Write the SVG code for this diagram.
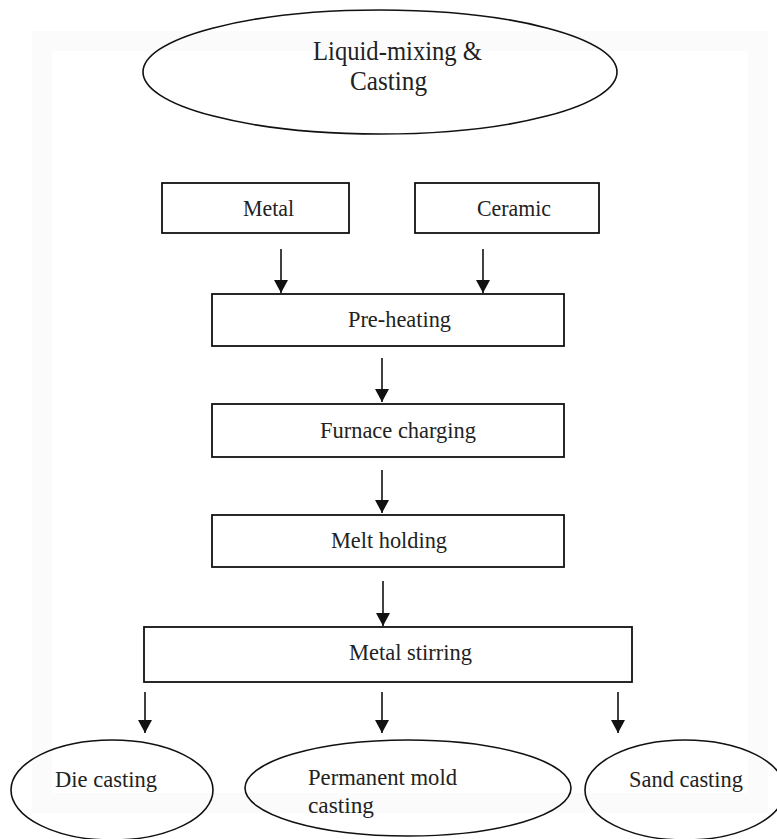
<svg xmlns="http://www.w3.org/2000/svg" width="777" height="839" viewBox="0 0 777 839">
<style>
.box{fill:none;stroke:#111;stroke-width:1.8}
.ell{fill:none;stroke:#111;stroke-width:1.6}
.lbl{font-size:24px;fill:#222}
.title{font-size:27px;fill:#222}
.conn{stroke:#111;stroke-width:1.6;fill:none}
</style>
<defs>
<marker id="ah" markerUnits="userSpaceOnUse" markerWidth="14" markerHeight="16" refX="13" refY="7" orient="auto">
<path d="M0,0 L13,7 L0,14 Z" fill="#111"/>
</marker>
</defs>
<rect width="777" height="839" fill="#fff"/>
<rect x="42" y="41" width="716" height="762" fill="none" stroke="#fbfbfb" stroke-width="20"/>
<g font-family="'Liberation Serif', 'DejaVu Serif', serif">
<g id="n-title">
<ellipse class="ell" cx="380" cy="72" rx="237" ry="62"/>
<text class="title" x="313" y="60" textLength="169" lengthAdjust="spacingAndGlyphs">Liquid-mixing &amp;</text>
<text class="title" x="350" y="90" textLength="77" lengthAdjust="spacingAndGlyphs">Casting</text>
</g>
<g id="n-metal">
<rect class="box" x="162" y="183" width="187" height="50"/>
<text class="lbl" x="243" y="216" textLength="51" lengthAdjust="spacingAndGlyphs">Metal</text>
</g>
<g id="n-ceramic">
<rect class="box" x="415" y="183" width="184" height="50"/>
<text class="lbl" x="477" y="216" textLength="74" lengthAdjust="spacingAndGlyphs">Ceramic</text>
</g>
<g id="n-preheating">
<rect class="box" x="212" y="294" width="352" height="52"/>
<text class="lbl" x="348" y="327" textLength="103" lengthAdjust="spacingAndGlyphs">Pre-heating</text>
</g>
<g id="n-furnace">
<rect class="box" x="212" y="404" width="352" height="53"/>
<text class="lbl" x="320" y="438" textLength="156" lengthAdjust="spacingAndGlyphs">Furnace charging</text>
</g>
<g id="n-melt">
<rect class="box" x="212" y="515" width="352" height="52"/>
<text class="lbl" x="331" y="548" textLength="116" lengthAdjust="spacingAndGlyphs">Melt holding</text>
</g>
<g id="n-stirring">
<rect class="box" x="144" y="627" width="488" height="55"/>
<text class="lbl" x="349" y="660" textLength="123" lengthAdjust="spacingAndGlyphs">Metal stirring</text>
</g>
<g id="n-die">
<ellipse class="ell" cx="112" cy="790" rx="101" ry="50"/>
<text class="lbl" x="55" y="787" textLength="102" lengthAdjust="spacingAndGlyphs">Die casting</text>
</g>
<g id="n-permanent">
<ellipse class="ell" cx="408" cy="788" rx="163" ry="48"/>
<text class="lbl" x="308" y="785" textLength="149" lengthAdjust="spacingAndGlyphs">Permanent mold</text>
<text class="lbl" x="308" y="813" textLength="66" lengthAdjust="spacingAndGlyphs">casting</text>
</g>
<g id="n-sand">
<ellipse class="ell" cx="685" cy="790" rx="100" ry="50"/>
<text class="lbl" x="629" y="787" textLength="114" lengthAdjust="spacingAndGlyphs">Sand casting</text>
</g>
</g>
<g id="connectors">
<line class="conn" x1="281" y1="249" x2="281" y2="293" marker-end="url(#ah)"/>
<line class="conn" x1="483" y1="249" x2="483" y2="293" marker-end="url(#ah)"/>
<line class="conn" x1="382" y1="358" x2="382" y2="402" marker-end="url(#ah)"/>
<line class="conn" x1="382" y1="470" x2="382" y2="513" marker-end="url(#ah)"/>
<line class="conn" x1="383" y1="581" x2="383" y2="626" marker-end="url(#ah)"/>
<line class="conn" x1="145" y1="692" x2="145" y2="733" marker-end="url(#ah)"/>
<line class="conn" x1="382" y1="692" x2="382" y2="733" marker-end="url(#ah)"/>
<line class="conn" x1="618" y1="692" x2="618" y2="733" marker-end="url(#ah)"/>
</g>
</svg>
